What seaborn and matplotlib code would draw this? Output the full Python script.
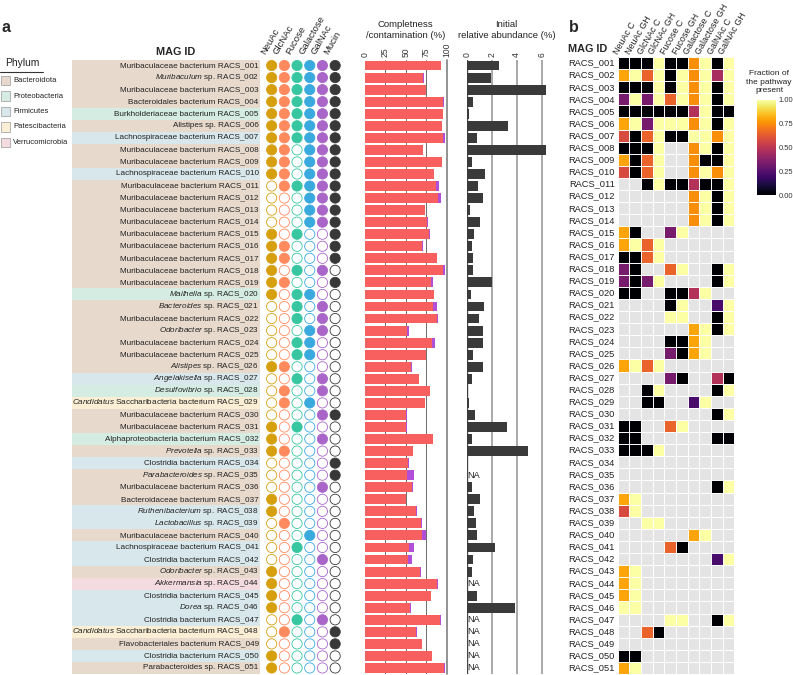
import numpy as np
import pandas as pd
import matplotlib.pyplot as plt
from matplotlib.lines import Line2D
from matplotlib.patches import Rectangle
from matplotlib.transforms import ScaledTranslation
import seaborn as sns

sns.set_style("white")
plt.rcParams["font.family"] = ["Liberation Sans", "DejaVu Sans"]
plt.rcParams["mathtext.fontset"] = "custom"
plt.rcParams["mathtext.rm"] = "Liberation Sans"
plt.rcParams["mathtext.it"] = "Liberation Sans:italic"
plt.rcParams["mathtext.bf"] = "Liberation Sans:bold"

NA = np.nan

# ---------------- data ----------------
mag_ids = [
    "RACS_001", "RACS_002", "RACS_003", "RACS_004", "RACS_005", "RACS_006", "RACS_007", "RACS_008",
    "RACS_009", "RACS_010", "RACS_011", "RACS_012", "RACS_013", "RACS_014", "RACS_015", "RACS_016",
    "RACS_017", "RACS_018", "RACS_019", "RACS_020", "RACS_021", "RACS_022", "RACS_023", "RACS_024",
    "RACS_025", "RACS_026", "RACS_027", "RACS_028", "RACS_029", "RACS_030", "RACS_031", "RACS_032",
    "RACS_033", "RACS_034", "RACS_035", "RACS_036", "RACS_037", "RACS_038", "RACS_039", "RACS_040",
    "RACS_041", "RACS_042", "RACS_043", "RACS_044", "RACS_045", "RACS_046", "RACS_047", "RACS_048",
    "RACS_049", "RACS_050", "RACS_051",
]

MURI = "Muribaculaceae bacterium"
LACH = "Lachnospiraceae bacterium"
CLOS = "Clostridia bacterium"
SACC = r"$\mathit{Candidatus}$ Saccharibacteria bacterium"
taxa = [
    MURI, r"$\mathit{Muribaculum}$ sp.", MURI, "Bacteroidales bacterium", "Burkholderiaceae bacterium",
    "Alistipes sp.", LACH, MURI, MURI, LACH,
    MURI, MURI, MURI, MURI, MURI, MURI, MURI, MURI, MURI, r"$\mathit{Mailhella}$ sp.",
    r"$\mathit{Bacteroides}$ sp.", MURI, r"$\mathit{Odoribacter}$ sp.", MURI, MURI,
    r"$\mathit{Alistipes}$ sp.", r"$\mathit{Angelakisella}$ sp.", r"$\mathit{Desulfovibrio}$ sp.", SACC, MURI,
    MURI, "Alphaproteobacteria bacterium", r"$\mathit{Prevotella}$ sp.", CLOS, r"$\mathit{Parabacteroides}$ sp.",
    MURI, "Bacteroidaceae bacterium", r"$\mathit{Ruthenibacterium}$ sp.", r"$\mathit{Lactobacillus}$ sp.", MURI,
    LACH, CLOS, r"$\mathit{Odoribacter}$ sp.", r"$\mathit{Akkermansia}$ sp.", CLOS,
    r"$\mathit{Dorea}$ sp.", CLOS, SACC, "Flavobacteriales bacterium", CLOS,
    "Parabacteroides sp.",
]

phylum = [
    "Bacteroidota", "Bacteroidota", "Bacteroidota", "Bacteroidota", "Proteobacteria",
    "Bacteroidota", "Firmicutes", "Bacteroidota", "Bacteroidota", "Firmicutes",
    "Bacteroidota", "Bacteroidota", "Bacteroidota", "Bacteroidota", "Bacteroidota",
    "Bacteroidota", "Bacteroidota", "Bacteroidota", "Bacteroidota", "Proteobacteria",
    "Bacteroidota", "Bacteroidota", "Bacteroidota", "Bacteroidota", "Bacteroidota",
    "Bacteroidota", "Firmicutes", "Proteobacteria", "Patescibacteria", "Bacteroidota",
    "Bacteroidota", "Proteobacteria", "Bacteroidota", "Firmicutes", "Bacteroidota",
    "Bacteroidota", "Bacteroidota", "Firmicutes", "Firmicutes", "Bacteroidota",
    "Firmicutes", "Firmicutes", "Bacteroidota", "Verrucomicrobia", "Firmicutes",
    "Firmicutes", "Firmicutes", "Patescibacteria", "Bacteroidota", "Firmicutes",
    "Bacteroidota",
]
phylum_order = ["Bacteroidota", "Proteobacteria", "Firmicutes", "Patescibacteria", "Verrucomicrobia"]
phylum_colors = ["#E7DACD", "#D4ECE1", "#D8E7EB", "#FAEFD5", "#F4DBDF"]

# substrate use (1 = filled dot)
substrates = ["NeuAc", "GlcNAc", "Fucose", "Galactose", "GalNAc", "Mucin"]
substrate_colors = ["#D69F0E", "#FF8A5E", "#37C6A0", "#39A9DE", "#A966C8", "#383838"]
neuac_use = [1, 1, 1, 1, 1, 1, 1, 1, 1, 1, 0, 0, 0, 0, 1, 1, 1, 1, 1, 1, 0, 0, 0, 0, 0,
             1, 0, 0, 0, 0, 1, 1, 1, 0, 0, 0, 1, 1, 0, 0, 0, 0, 1, 1, 1, 1, 0, 0, 0, 1, 1]
glcnac_use = [1, 1, 1, 1, 1, 1, 1, 1, 1, 1, 1, 0, 0, 0, 0, 1, 1, 0, 1, 0, 0, 0, 0, 0, 0,
              1, 0, 1, 1, 0, 0, 0, 1, 0, 0, 0, 0, 0, 1, 0, 0, 0, 0, 0, 0, 0, 0, 1, 0, 0, 0]
fucose_use = [1, 1, 1, 1, 1, 1, 1, 0, 0, 0, 1, 0, 0, 0, 1, 0, 0, 1, 0, 1, 1, 1, 0, 1, 1,
              0, 1, 0, 0, 0, 1, 0, 0, 0, 0, 0, 0, 0, 0, 0, 1, 0, 0, 0, 0, 0, 1, 0, 0, 0, 0]
galactose_use = [1, 1, 1, 1, 1, 1, 1, 1, 1, 1, 1, 1, 1, 1, 0, 0, 0, 0, 0, 1, 0, 0, 1, 1, 1,
                 0, 0, 0, 1, 0, 0, 0, 0, 0, 0, 0, 0, 0, 0, 1, 0, 0, 0, 0, 0, 0, 0, 0, 0, 0, 0]
galnac_use = [1, 1, 1, 1, 1, 1, 1, 1, 1, 1, 1, 1, 1, 1, 0, 0, 0, 1, 0, 0, 1, 1, 1, 0, 0,
              0, 1, 1, 0, 1, 0, 1, 0, 0, 0, 1, 0, 0, 0, 0, 0, 1, 0, 0, 0, 0, 1, 0, 0, 0, 0]
mucin_use = [1, 1, 1, 1, 1, 1, 1, 1, 1, 1, 1, 1, 1, 1, 1, 1, 1, 0, 1, 0, 0, 0, 0, 0, 0,
             0, 0, 0, 0, 1, 0, 0, 0, 1, 1, 0, 0, 0, 0, 0, 0, 0, 0, 0, 0, 0, 0, 1, 1, 0, 0]

completeness = [
    93.1, 71.4, 74.3, 95.9, 95.1, 93.9, 95.9, 71.0, 94.3, 84.5,
    86.9, 89.4, 73.5, 76.3, 78.8, 70.2, 87.8, 95.5, 81.2, 84.1,
    83.7, 88.6, 51.8, 81.6, 74.3, 55.9, 65.7, 79.6, 73.5, 50.6,
    50.6, 82.9, 59.0, 52.2, 51.4, 58.0, 50.2, 62.9, 69.0, 69.8,
    53.9, 52.2, 67.3, 88.6, 80.4, 55.1, 92.2, 62.9, 69.4, 82.0,
    96.3,
]
contamination = [
    0.2, 0.6, 0.6, 0.6, 0.3, 0.3, 2.0, 0.3, 0.3, 0.3,
    4.0, 3.7, 0.3, 1.2, 0.3, 0.8, 0.8, 2.4, 1.6, 0.8,
    4.5, 1.2, 1.6, 4.0, 0.3, 1.2, 0.3, 0.3, 0.3, 0.3,
    0.3, 0.3, 0.3, 1.2, 8.6, 0.8, 0.3, 0.3, 0.8, 5.3,
    6.5, 4.9, 0.8, 0.3, 0.3, 0.8, 0.8, 0.8, 0.3, 0.3,
    1.2,
]
abundance = [
    2.56, 1.95, 6.34, 0.48, 0.19, 3.28, 0.85, 6.34, 0.40, 1.49,
    0.93, 1.33, 0.29, 1.09, 0.59, 0.43, 0.53, 0.53, 2.03, 0.35,
    1.36, 1.01, 1.28, 1.31, 0.51, 1.31, 0.40, 0.13, 0.19, 0.64,
    3.20, 0.43, 4.93, 0.05, NA, 0.40, 1.09, 0.56, 0.75, 0.85,
    2.24, 0.48, 0.45, NA, 0.85, 3.87, NA, NA, NA, NA,
    NA,
]

# fraction of the pathway present (NA = pathway absent)
pathway_cols = ["NeuAc C", "NeuAc GH", "GlcNAc C", "GlcNAc GH", "Fucose C", "Fucose GH",
                "Galactose C", "Galactose GH", "GalNAc C", "GalNAc GH"]
neuac_c = [0, .8, 0, .33, 0, .8, .58, 0, .8, .58, NA, NA, NA, NA, .8, .8, 0, .33, .33, 0,
           NA, NA, NA, NA, NA, .8, NA, NA, NA, NA, 0, 0, 0, NA, NA, NA, .8, .58, NA, NA,
           NA, NA, .8, .8, .8, 1, NA, NA, NA, 0, .8]
neuac_gh = [0, 1, 0, 1, 0, 1, 0, 0, 0, 0, NA, NA, NA, NA, 0, 1, 0, 0, 0, 0,
            NA, NA, NA, NA, NA, 1, NA, NA, NA, NA, 0, 0, 0, NA, NA, NA, 1, 1, NA, NA,
            NA, NA, 1, 1, 1, 1, NA, NA, NA, 0, 1]
glcnac_c = [0, .65, 0, .33, 0, .33, .65, 0, .65, .65, 0, NA, NA, NA, NA, .65, .65, NA, .33, NA,
            NA, NA, NA, NA, NA, .65, NA, 0, 0, NA, NA, NA, 0, NA, NA, NA, NA, NA, 1, NA,
            NA, NA, NA, NA, NA, NA, NA, .65, NA, NA, NA]
glcnac_gh = [1, 1, 1, 1, 0, 1, 1, 1, 1, 1, 1, NA, NA, NA, NA, 1, 1, NA, 1, NA,
             NA, NA, NA, NA, NA, 1, NA, 1, 0, NA, NA, NA, 1, NA, NA, NA, NA, NA, 1, NA,
             NA, NA, NA, NA, NA, NA, NA, 0, NA, NA, NA]
fucose_c = [0, 0, 0, .65, 0, 1, 0, NA, NA, NA, 0, NA, NA, NA, .33, NA, NA, .65, NA, 0,
            0, 1, NA, 0, .33, NA, .33, NA, NA, NA, .65, NA, NA, NA, NA, NA, NA, NA, NA, NA,
            .65, NA, NA, NA, NA, NA, 1, NA, NA, NA, NA]
fucose_gh = [0, 1, 1, 1, 0, 1, 0, NA, NA, NA, 0, NA, NA, NA, 1, NA, NA, 1, NA, 0,
             1, 1, NA, 0, 0, NA, 0, NA, NA, NA, 1, NA, NA, NA, NA, NA, NA, NA, NA, NA,
             0, NA, NA, NA, NA, NA, 1, NA, NA, NA, NA]
galactose_c = [.75, .75, .75, .75, .48, .75, 1, .75, .75, .75, .48, .75, .75, .75, NA, NA, NA, NA, NA, .48,
               NA, NA, .8, .8, .8, NA, NA, NA, .22, NA, NA, NA, NA, NA, NA, NA, NA, NA, NA, .8,
               NA, NA, NA, NA, NA, NA, NA, NA, NA, NA, NA]
galactose_gh = [1, 1, 1, 1, 1, 1, 1, 1, 0, 1, 0, 1, 1, 1, NA, NA, NA, NA, NA, 1,
                NA, NA, 1, 1, 1, NA, NA, NA, 1, NA, NA, NA, NA, NA, NA, NA, NA, NA, NA, 1,
                NA, NA, NA, NA, NA, NA, NA, NA, NA, NA, NA]
galnac_c = [0, .45, 0, 0, 0, 0, .75, 0, 0, .75, 0, 0, 0, 0, NA, NA, NA, 0, 0, NA,
            .22, 0, 0, NA, NA, NA, .48, 0, NA, 0, NA, 0, NA, NA, NA, 0, NA, NA, NA, NA,
            NA, .22, NA, NA, NA, NA, 0, NA, NA, NA, NA]
galnac_gh = [1, 1, 1, 1, 0, 1, 1, 1, 1, 1, 1, 1, 1, 1, NA, NA, NA, 1, 1, NA,
             1, 1, 1, NA, NA, NA, 0, 1, NA, 1, NA, 0, NA, NA, NA, 1, NA, NA, NA, NA,
             NA, 1, NA, NA, NA, NA, 1, NA, NA, NA, NA]

# ---------------- layout helpers (pixel coords, origin top-left) ----------------
W, H = 793, 675
fig = plt.figure(figsize=(W / 100, H / 100), dpi=100)


def add_ax(x0, y0, x1, y1):
    return fig.add_axes([x0 / W, 1 - y1 / H, (x1 - x0) / W, (y1 - y0) / H])


def fig_text(x, y, s, **kw):
    return fig.text(x / W, 1 - y / H, s, **kw)


n = len(mag_ids)
rows = np.arange(n)
TOP, BOTTOM = 59.5, 674

# ---------------- panel a: names ----------------
ax_names = add_ax(72, TOP, 260, BOTTOM)
color_of = dict(zip(phylum_order, phylum_colors))
for i, ph in enumerate(phylum):
    ax_names.axhspan(i - 0.5, i + 0.5, color=color_of[ph], lw=0)
    ax_names.text(0.993, i, f"{taxa[i]} {mag_ids[i]}", ha="right", va="center",
                  fontsize=5.9, color="#222222")
ax_names.set_xlim(0, 1)
ax_names.set_ylim(n - 0.5, -0.5)
ax_names.axis("off")

fig_text(176, 52, "MAG ID", ha="center", va="center", fontsize=7.8, fontweight="bold")

# phylum legend
fig_text(5, 63, "Phylum", ha="left", va="center", fontsize=7.4, color="#222222")
fig.add_artist(Line2D([0, 43 / W], [1 - 71.5 / H] * 2, color="#333333", lw=0.8))
for k, (ph, col) in enumerate(zip(phylum_order, phylum_colors)):
    yc = 80.7 + 15.4 * k
    fig.add_artist(Rectangle((0.5 / W, 1 - (yc + 4.7) / H), 9 / W, 9.4 / H,
                             facecolor=col, edgecolor="#9a9a9a", lw=0.5,
                             transform=fig.transFigure))
    fig_text(13, yc, ph, ha="left", va="center", fontsize=5.5, color="#222222")

# ---------------- panel a: substrate dots ----------------
ax_dots = add_ax(265.3, TOP, 341.5, BOTTOM)
use_lists = [neuac_use, glcnac_use, fucose_use, galactose_use, galnac_use, mucin_use]
for j, (name, used, col) in enumerate(zip(substrates, use_lists, substrate_colors)):
    face = [col if u else "white" for u in used]
    ax_dots.scatter(np.full(n, j), rows, s=54, facecolors=face, edgecolors=col, linewidths=0.6)
    fig_text(271.7 + 12.7 * j - 5, 56, name, rotation=60, ha="left", va="bottom",
             rotation_mode="anchor", fontsize=6.8, color="#222222")
ax_dots.set_xlim(-0.5, 5.5)
ax_dots.set_ylim(n - 0.5, -0.5)
ax_dots.axis("off")

# ---------------- panel a: completeness / contamination ----------------
bars = pd.DataFrame({
    "mag": mag_ids,
    "completeness": completeness,
    "total": np.array(completeness) + np.array(contamination),
    "abundance": abundance,
})

ax_c = add_ax(365, TOP, 446.7, BOTTOM)
for v in [25, 50, 75]:
    ax_c.axvline(v, color="#555555", lw=0.6, zorder=0)
ax_c.axvline(100, color="#8a8a8a", lw=1.3, zorder=0, clip_on=False)
sns.barplot(data=bars, x="total", y="mag", order=mag_ids, color="#B24FD8", saturation=1,
            width=0.82, errorbar=None, linewidth=0, ax=ax_c)
sns.barplot(data=bars, x="completeness", y="mag", order=mag_ids, color="#F8605F", saturation=1,
            width=0.82, errorbar=None, linewidth=0, ax=ax_c)
ax_c.set_xlim(0, 100)
ax_c.set_ylim(n - 0.5, -0.5)

# ---------------- panel a: initial abundance ----------------
ax_a = add_ax(466.7, TOP, 546.7, BOTTOM)
ax_a.axvline(0, color="#444444", lw=1.0, zorder=0)
for v in [2, 4, 6]:
    ax_a.axvline(v, color="#a3a3a3", lw=1.3, zorder=0)
sns.barplot(data=bars, x="abundance", y="mag", order=mag_ids, color="#3A3A3A", saturation=1,
            width=0.82, errorbar=None, linewidth=0, ax=ax_a)
for i, v in enumerate(abundance):
    if np.isnan(v):
        ax_a.text(0.08, i, "NA", ha="left", va="center", fontsize=6.6, color="#222222")
ax_a.set_xlim(0, 6.4)
ax_a.set_ylim(n - 0.5, -0.5)

for ax, ticks in [(ax_c, [0, 25, 50, 75, 100]), (ax_a, [0, 2, 4, 6])]:
    ax.xaxis.tick_top()
    ax.set_xticks(ticks)
    ax.set_xticklabels([str(t) for t in ticks])
    ax.tick_params(axis="x", labelsize=6.2, rotation=90, length=0, pad=1.5, colors="#333333")
    ax.set_yticks([])
    ax.set_xlabel("")
    ax.set_ylabel("")
    for s in ax.spines.values():
        s.set_visible(False)

fig_text(405.8, 30, "Completness\n/contamination (%)", ha="center", va="center",
         fontsize=6.8, linespacing=1.15, color="#222222")
fig_text(506.7, 30, "Initial\nrelative abundance (%)", ha="center", va="center",
         fontsize=6.8, linespacing=1.15, color="#222222")

# ---------------- panel b: pathway heatmap ----------------
pathways = pd.DataFrame(
    dict(zip(pathway_cols, [neuac_c, neuac_gh, glcnac_c, glcnac_gh, fucose_c, fucose_gh,
                            galactose_c, galactose_gh, galnac_c, galnac_gh])),
    index=mag_ids,
)
ax_h = add_ax(617.7, 57, 734.3, 674)
ax_cb = add_ax(757, 100, 776, 195)
sns.heatmap(pathways, ax=ax_h, cbar_ax=ax_cb, cmap="inferno", vmin=0, vmax=1,
            xticklabels=True, yticklabels=True)
ax_h.set_facecolor("#E4E4E4")
ax_h.hlines(np.arange(n + 1), 0, len(pathway_cols), colors="white", lw=0.7)
ax_h.vlines(np.arange(len(pathway_cols) + 1), 0, n, colors="white", lw=0.7)
ax_h.xaxis.tick_top()
ax_h.set_xticklabels(pathway_cols, rotation=60, ha="left", rotation_mode="anchor",
                     fontsize=6.4, color="#222222")
ax_h.tick_params(axis="x", length=0, pad=1)
ax_h.tick_params(axis="y", length=0, pad=2, labelsize=6.7, labelcolor="#222222")
ax_h.set_yticklabels(mag_ids, rotation=0)
for lbl in ax_h.get_xticklabels():
    lbl.set_transform(lbl.get_transform() + ScaledTranslation(-0.035, 0, fig.dpi_scale_trans))
ax_h.set_xlabel("")
ax_h.set_ylabel("")

cb = ax_h.collections[0].colorbar
cb.set_ticks([0, 0.25, 0.5, 0.75, 1.0])
cb.set_ticklabels(["0.00", "0.25", "0.50", "0.75", "1.00"])
cb.outline.set_visible(False)
ax_cb.yaxis.set_ticks_position("both")
ax_cb.tick_params(labelsize=5.4, length=3, width=0.6, color="white", direction="in",
                  pad=2, labelcolor="#333333")
fig_text(769, 82, "Fraction of\nthe pathway\npresent", ha="center", va="center",
         fontsize=6.0, linespacing=1.25, color="#222222")

fig_text(568, 49, "MAG ID", ha="left", va="center", fontsize=7.8, fontweight="bold")

# panel letters
fig_text(1, 27, "a", ha="left", va="center", fontsize=11.5, fontweight="bold")
fig_text(569, 27, "b", ha="left", va="center", fontsize=11.5, fontweight="bold")

fig.savefig("out.png", dpi=100)
plt.close(fig)
